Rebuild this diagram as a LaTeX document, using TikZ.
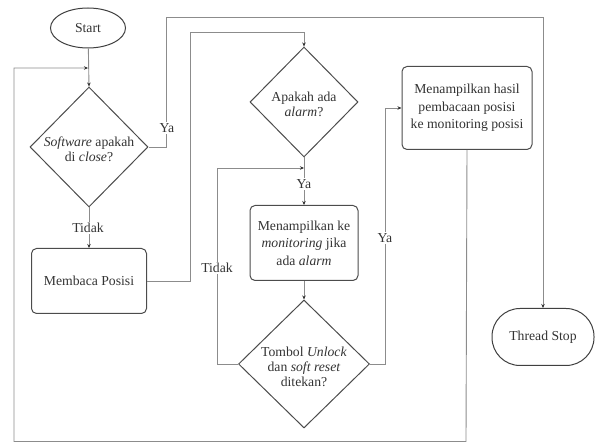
\documentclass[tikz,border=0pt]{standalone}
\usepackage{fontspec}
\setmainfont{Liberation Serif}
\usetikzlibrary{shapes.geometric,arrows.meta}
\begin{document}
\begin{tikzpicture}[x=1pt,y=-1pt,
  txt/.style={font=\fontsize{13.7}{17}\selectfont, text=black!80},
  dtxt/.style={font=\fontsize{13.7}{15}\selectfont, text=black!80, align=center, inner sep=0pt},
  box/.style={draw=black!70, line width=1pt, rounded corners=5pt, align=center, inner sep=2pt, txt, font=\fontsize{13.7}{17.5}\selectfont},
  dia/.style={draw=black!70, line width=1pt, diamond, inner sep=0pt},
  term/.style={draw=black!75, line width=1pt, txt},
  conn/.style={draw=black!45, line width=0.9pt},
  arr/.style={conn, -{Stealth[length=4pt,width=3.5pt,black!80]}},
  lbl/.style={txt, fill=white, inner sep=1pt}
]
\useasboundingbox (0,0) rectangle (598,443);
% nodes
\node[term, ellipse, minimum width=75pt, minimum height=40pt, inner sep=0pt] (start) at (88,28) {Start};
\coordinate (j1) at (88,68);
\node[dia, minimum width=118pt, minimum height=120pt] (d1) at (89,147) {};
\node[dtxt] (d1t) at (89,149) {\textit{Software} apakah\\di \textit{close}?};
\node[box, minimum width=115pt, minimum height=65pt] (b1) at (89,281) {Membaca Posisi};
\node[dia, minimum width=108pt, minimum height=110pt] (d2) at (304,102) {};
\node[dtxt] (d2t) at (304,104) {Apakah ada\\\textit{alarm}?};
\coordinate (j2) at (304,168);
\node[box, minimum width=108pt, minimum height=75pt] (b2) at (304,243) {Menampilkan ke\\\textit{monitoring} jika\\ada \textit{alarm}};
\node[dia, minimum width=131pt, minimum height=128pt] (d3) at (304,364) {};
\node[dtxt] (d3t) at (304,367) {Tombol \textit{Unlock}\\dan \textit{soft reset}\\ditekan?};
\node[box, minimum width=130pt, minimum height=83pt] (b3) at (467,108) {Menampilkan hasil\\pembacaan posisi\\ke monitoring posisi};
\node[term, rounded corners=28pt, minimum width=102pt, minimum height=57pt] (stop) at (543,337) {Thread Stop};
% corner coordinates
\coordinate (c1) at (166,17);
\coordinate (c2) at (190,32);
\coordinate (c3) at (217,364);
\coordinate (c4) at (385,364);
\coordinate (c5) at (466,441.5);
\coordinate (c6) at (14,68);
% connectors
\draw[arr] (start) -- (d1.north);
\draw[arr] (d1.east) -| (c1) -| (stop.north);
\node[lbl] (ya1) at (167,128) {Ya};
\draw[arr] (d1.south) -- (b1.north);
\node[lbl] (tidak1) at (88,228) {Tidak};
\draw[arr] (b1.east) -| (c2) -| (d2.north);
\draw[arr] (d2.south) -- (b2.north);
\node[lbl] (ya2) at (304,184) {Ya};
\draw[arr] (b2.south) -- (d3.north);
\draw[arr] (d3.west) -- (c3) |- (j2);
\node[lbl] (tidak2) at (217,268) {Tidak};
\draw[arr] (d3.east) -- (c4) |- (b3.west);
\node[lbl] (ya3) at (385,238) {Ya};
\draw[arr] (b3.south) -- (c5) -| (c6) -- (j1);
\end{tikzpicture}
\end{document}
